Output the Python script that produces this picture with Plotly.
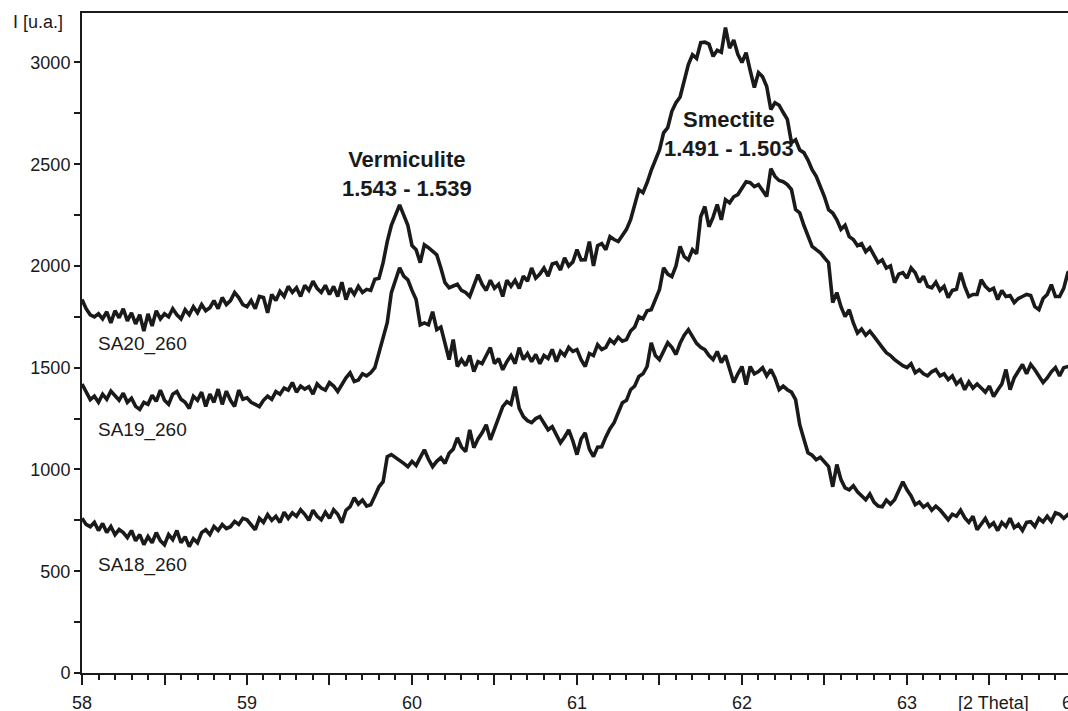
import numpy as np
import plotly.graph_objects as go

# 2-Theta grid start / step (instrument scan)
theta_start = 58.0
theta_step = 0.025

sa20 = [
    1835,1790,1760,1750,1765,1740,1775,1720,1780,1745,
    1790,1730,1770,1715,1760,1680,1765,1705,1780,1740,
    1765,1750,1790,1760,1740,1785,1760,1800,1770,1810,
    1780,1795,1830,1790,1845,1810,1830,1870,1845,1810,
    1800,1830,1790,1850,1845,1770,1860,1830,1875,1850,
    1900,1870,1893,1850,1905,1880,1925,1890,1870,1905,
    1860,1900,1850,1920,1835,1890,1860,1900,1870,1885,
    1880,1935,1940,2016,2120,2200,2250,2300,2250,2200,
    2100,2080,2016,2104,2090,2070,2055,1990,1918,1893,
    1900,1910,1880,1870,1850,1900,1957,1910,1880,1930,
    1890,1910,1850,1930,1900,1930,1890,1950,1925,1990,
    1940,1960,1990,1950,2010,2016,1980,2040,2000,2020,
    2080,2030,2031,2120,2000,2100,2110,2080,2144,2130,
    2120,2150,2180,2227,2300,2375,2360,2409,2470,2522,
    2570,2654,2680,2760,2802,2830,2905,2990,3038,3020,
    3097,3100,3090,3030,3060,3050,3171,3070,3110,3040,
    3000,3048,2960,2877,2950,2930,2882,2769,2802,2790,
    2754,2720,2606,2620,2570,2557,2520,2473,2440,2390,
    2340,2277,2260,2227,2180,2200,2144,2130,2100,2110,
    2070,2090,2050,2016,2030,1990,2000,1918,1960,1967,
    1940,1990,1967,1920,1950,1900,1893,1920,1880,1900,
    1845,1880,1885,1967,1900,1850,1860,1860,1932,1900,
    1880,1890,1835,1880,1850,1855,1820,1840,1850,1860,
    1855,1800,1785,1840,1860,1908,1850,1850,1890,1967,
    1980,
]

sa19 = [
    1420,1380,1343,1360,1330,1370,1345,1385,1360,1340,
    1375,1330,1350,1310,1295,1330,1320,1365,1335,1390,
    1340,1320,1370,1383,1345,1330,1300,1360,1340,1380,
    1310,1370,1330,1395,1320,1385,1340,1310,1390,1345,
    1352,1330,1320,1309,1340,1360,1345,1383,1370,1400,
    1390,1427,1380,1410,1395,1407,1370,1420,1400,1390,
    1427,1410,1383,1420,1450,1475,1432,1440,1470,1460,
    1475,1500,1574,1660,1721,1869,1930,1991,1950,1932,
    1880,1835,1711,1720,1711,1775,1687,1700,1620,1540,
    1638,1506,1540,1510,1560,1481,1530,1520,1560,1599,
    1520,1545,1490,1530,1560,1520,1599,1540,1570,1530,
    1565,1520,1560,1545,1590,1530,1580,1560,1600,1580,
    1589,1540,1506,1570,1560,1613,1590,1600,1638,1620,
    1650,1630,1638,1680,1700,1751,1740,1780,1785,1830,
    1884,1991,1960,1948,2000,2096,2046,2030,2080,2060,
    2242,2292,2193,2240,2302,2227,2326,2310,2340,2351,
    2380,2414,2409,2390,2400,2370,2341,2478,2440,2420,
    2414,2400,2375,2277,2261,2200,2150,2096,2080,2065,
    2040,2016,1820,1869,1800,1751,1785,1720,1670,1690,
    1660,1680,1654,1630,1600,1574,1560,1540,1525,1510,
    1501,1520,1475,1490,1470,1460,1480,1491,1460,1470,
    1442,1460,1420,1440,1392,1430,1400,1420,1400,1380,
    1410,1358,1390,1420,1491,1392,1450,1480,1516,1470,
    1516,1490,1460,1427,1450,1480,1501,1460,1500,1506,
    1500,
]

sa18 = [
    760,730,719,740,700,735,690,720,680,705,
    690,665,700,650,680,631,670,640,690,650,
    630,680,655,700,640,670,621,660,640,690,
    704,680,720,700,730,710,719,745,730,760,
    753,730,704,760,740,778,750,770,740,790,
    760,787,770,802,780,750,800,770,753,790,
    760,802,780,738,800,817,861,830,850,820,
    827,870,915,940,1063,1073,1060,1048,1030,1014,
    1040,1020,1063,1097,1050,1014,1040,1058,1030,1080,
    1100,1156,1110,1088,1195,1107,1150,1180,1220,1146,
    1200,1260,1309,1333,1320,1407,1300,1260,1240,1230,
    1250,1260,1230,1195,1210,1170,1131,1160,1195,1140,
    1073,1150,1180,1100,1063,1110,1112,1160,1200,1230,
    1280,1328,1340,1392,1410,1457,1470,1506,1623,1560,
    1540,1580,1623,1600,1565,1620,1660,1687,1650,1620,
    1600,1589,1560,1540,1580,1525,1560,1500,1427,1470,
    1506,1417,1506,1470,1481,1500,1460,1491,1450,1392,
    1410,1392,1380,1343,1220,1150,1082,1070,1048,1060,
    1040,1014,915,1024,950,910,900,920,890,870,
    851,880,840,820,817,850,830,851,900,940,
    900,870,827,840,815,830,800,820,802,780,
    753,780,770,800,763,740,770,704,730,760,
    720,738,700,740,720,760,714,730,700,740,
    743,720,760,743,770,745,787,780,760,778,
    770,
]

series_names = ["SA20_260", "SA19_260", "SA18_260"]
label_pos = [(58.087, 1618), (58.087, 1196), (58.087, 533)]

peak_labels = ["<b>Vermiculite<br>1.543 - 1.539</b>", "<b>Smectite<br>1.491 - 1.503</b>"]
peak_pos = [(59.97, 2451), (61.923, 2648)]

x_tick_vals = [58 + 0.5 * i for i in range(13)]
x_tick_text = [str(int(v)) if float(v).is_integer() else "" for v in x_tick_vals]
y_tick_vals = [0, 500, 1000, 1500, 2000, 2500, 3000]

FONT = "Arial, Liberation Sans, sans-serif"
INK = "#1a1a1a"
FS = 18

fig = go.Figure()
for name, ys in zip(series_names, [sa20, sa19, sa18]):
    xs = np.round(theta_start + theta_step * np.arange(len(ys)), 3)
    fig.add_trace(go.Scatter(x=xs, y=ys, mode="lines", name=name,
                             line=dict(color=INK, width=3.6), showlegend=False))

for name, (lx, ly) in zip(series_names, label_pos):
    fig.add_annotation(x=lx, y=ly, text=name, showarrow=False, xanchor="left",
                       yanchor="middle", font=dict(family=FONT, size=19, color=INK))

for txt, (px, py) in zip(peak_labels, peak_pos):
    fig.add_annotation(x=px, y=py, text=txt, showarrow=False, xanchor="center",
                       yanchor="middle", font=dict(family=FONT, size=22, color=INK))

fig.add_annotation(xref="paper", yref="paper", x=-0.017, y=0.986, text="I [u.a.]",
                   showarrow=False, xanchor="right", yanchor="middle",
                   font=dict(family=FONT, size=FS, color=INK))
fig.add_annotation(xref="paper", yref="paper", x=0.924, y=-0.0455, text="[2 Theta]",
                   showarrow=False, xanchor="center", yanchor="middle",
                   font=dict(family=FONT, size=FS, color=INK))
fig.add_annotation(xref="paper", yref="paper", x=1.004, y=-0.0455, text="64",
                   showarrow=False, xanchor="center", yanchor="middle",
                   font=dict(family=FONT, size=FS, color=INK))

fig.update_layout(
    width=1068, height=711,
    margin=dict(l=82, r=0, t=13, b=38, autoexpand=False),
    paper_bgcolor="white", plot_bgcolor="white",
    font=dict(family=FONT, size=FS, color=INK),
)
fig.update_xaxes(
    range=[58, 63.976], showgrid=False, zeroline=False, automargin=False,
    showline=True, linecolor=INK, linewidth=2, mirror=True,
    tickmode="array", tickvals=x_tick_vals, ticktext=x_tick_text,
    ticks="outside", ticklen=10, tickwidth=2, tickcolor=INK,
    ticklabelstandoff=2,
    minor=dict(tickmode="linear", tick0=58, dtick=0.1, ticks="outside",
               ticklen=5, tickwidth=2, tickcolor=INK, showgrid=False),
    tickfont=dict(family=FONT, size=FS, color=INK),
)
fig.update_yaxes(
    range=[0, 3243], showgrid=False, zeroline=False, automargin=False,
    showline=True, linecolor=INK, linewidth=2,
    tickmode="array", tickvals=y_tick_vals,
    ticks="outside", ticklen=6, tickwidth=2, tickcolor=INK,
    minor=dict(tickmode="linear", tick0=0, dtick=250, ticks="outside",
               ticklen=6, tickwidth=2, tickcolor=INK, showgrid=False),
    tickfont=dict(family=FONT, size=FS, color=INK),
)

# remove the default page margin so the figure fills the 1068x711 window exactly
page_fix = "document.body.style.margin='0';document.body.style.overflow='hidden';"
fig.write_html("out.html", post_script=page_fix, config={"displayModeBar": False})
